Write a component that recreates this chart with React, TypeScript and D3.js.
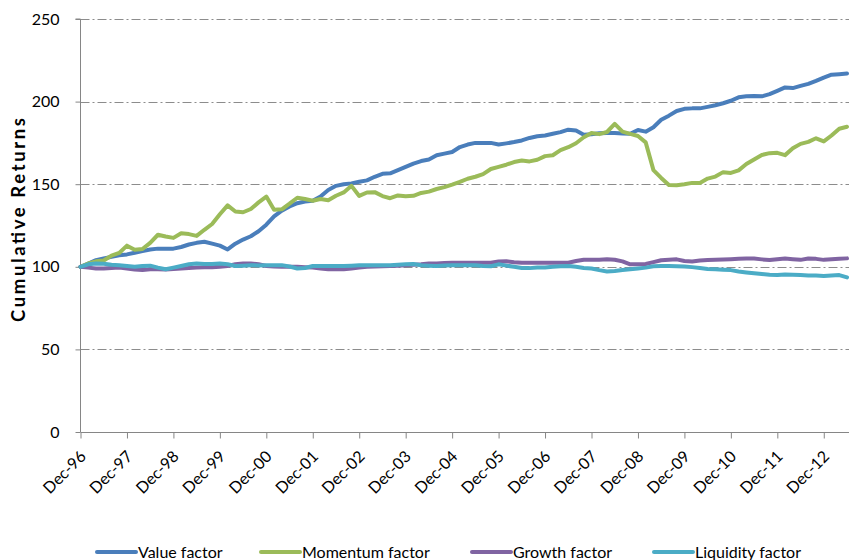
import React, { useEffect, useRef } from "react";
import * as d3 from "d3";

// Month offsets from Dec-96 (every 2 months) – category positions on the axis
const STEP_MONTHS = 2;

const yearTickLabels = [
  "Dec-96", "Dec-97", "Dec-98", "Dec-99", "Dec-00", "Dec-01", "Dec-02", "Dec-03", "Dec-04",
  "Dec-05", "Dec-06", "Dec-07", "Dec-08", "Dec-09", "Dec-10", "Dec-11", "Dec-12",
];

const yTickValues = [0, 50, 100, 150, 200, 250];

const valueFactor = [
  100, 102, 104, 105, 106, 107, 107.5, 108.5, 109.5, 110.5,
  111, 111, 111, 112, 113.5, 114.5, 115.2, 114, 112.8, 110.5,
  114, 116.5, 118.5, 121.5, 125.5, 130.5, 134, 136.5, 138.5, 139.5,
  140, 142.5, 146.5, 149, 150, 150.5, 151.5, 152.3, 154.5, 156.3,
  156.6, 158.5, 160.5, 162.5, 164, 165, 167.5, 168.5, 169.5, 172.5,
  174, 175, 175, 175, 174, 174.7, 175.5, 176.5, 178, 179,
  179.5, 180.5, 181.5, 183, 182.5, 180, 180.2, 180.8, 181, 181,
  180.7, 180.5, 182.8, 181.8, 184.5, 189, 191.5, 194.3, 195.6, 195.9,
  195.9, 196.8, 197.8, 199, 200.5, 202.6, 203.2, 203.4, 203.2, 204.5,
  206.5, 208.6, 208.2, 209.5, 210.7, 212.5, 214.5, 216.3, 216.6, 217,
];

const momentumFactor = [
  100, 102, 103.3, 103.8, 106.8, 108.4, 112.8, 110.3, 110.8, 114.5,
  119.4, 118.3, 117.5, 120.3, 119.8, 118.7, 122.4, 125.9, 131.8, 137.2,
  133.5, 133, 135, 139, 142.5, 134.5, 134.8, 138.2, 141.8, 141,
  140, 141, 140.3, 143, 145, 149, 142.9, 145, 145.2, 142.8,
  141.5, 143.2, 142.7, 143, 144.7, 145.5, 147.1, 148.2, 149.7, 151.4,
  153.3, 154.5, 156.1, 159.2, 160.5, 161.8, 163.4, 164.3, 163.8, 164.8,
  167, 167.5, 170.6, 172.4, 174.8, 178.4, 181, 180.3, 181.6, 186.5,
  181.8, 180.5, 179.2, 175.3, 158.5, 153.8, 149.5, 149.4, 150, 150.8,
  150.8, 153.4, 154.6, 157.3, 156.8, 158.4, 162.2, 165, 167.7, 168.8,
  169, 167.6, 171.7, 174.4, 175.6, 177.8, 175.9, 179.5, 183.6, 184.8,
];

const growthFactor = [
  100, 99.5, 99, 99, 99.3, 99.5, 99, 98.3, 98, 98.5,
  98.5, 98.3, 98.7, 99, 99.2, 99.5, 99.8, 99.8, 100, 100.5,
  101.5, 102, 102, 101.5, 100.5, 100.2, 100, 100, 100, 99.8,
  99.6, 99, 98.5, 98.5, 98.5, 99, 99.5, 100, 100.2, 100.4,
  100.5, 100.7, 100.9, 101.2, 101.5, 102, 102, 102.3, 102.5, 102.5,
  102.5, 102.5, 102.5, 102.5, 103.2, 103.3, 102.8, 102.5, 102.5, 102.5,
  102.5, 102.5, 102.5, 102.5, 103.5, 104.3, 104.2, 104.3, 104.5, 104.3,
  103.3, 101.5, 101.5, 101.7, 102.8, 104, 104.3, 104.5, 103.5, 103.2,
  103.8, 104.1, 104.2, 104.4, 104.6, 104.8, 105, 105, 104.5, 104.1,
  104.6, 105, 104.6, 104.2, 105, 104.8, 104.2, 104.5, 104.8, 105.1,
];

const liquidityFactor = [
  100, 101.5, 102, 101.8, 101.2, 101, 100.5, 100, 100.5, 100.7,
  99.5, 98.5, 99.5, 100.5, 101.5, 102, 101.7, 101.7, 102, 101.5,
  100.5, 100.7, 101, 100.8, 101, 101, 101, 100.2, 99, 99.3,
  100.5, 100.5, 100.5, 100.5, 100.5, 100.7, 101, 101, 101, 101,
  101, 101.3, 101.5, 101.7, 101, 100.7, 100.5, 100.8, 101, 101,
  101, 101, 100.5, 100.3, 101.5, 100.7, 100, 99.3, 99.2, 99.6,
  99.6, 100, 100.3, 100.5, 100, 99.3, 99, 98, 97.2, 97.5,
  98, 98.5, 99, 99.5, 100.3, 100.5, 100.5, 100.3, 100.2, 99.8,
  99.3, 98.7, 98.5, 98.2, 98, 97.2, 96.6, 96.1, 95.6, 95.2,
  95, 95.4, 95.2, 95, 94.8, 94.7, 94.5, 94.8, 95, 93.6,
];

const seriesNames = ["Value factor", "Momentum factor", "Growth factor", "Liquidity factor"];
const seriesColors = ["#4A7EBB", "#9BBB59", "#8064A2", "#4BACC6"];
const seriesData = [valueFactor, momentumFactor, growthFactor, liquidityFactor];

const FONT = "Lato, 'Open Sans', 'DejaVu Sans', sans-serif";

export default function App() {
  const ref = useRef<SVGSVGElement | null>(null);

  useEffect(() => {
    document.body.style.margin = "0";
    const svg = d3.select(ref.current);
    svg.selectAll("*").remove();

    const W = 849;
    const H = 560;
    const left = 80.5;
    const top = 19;
    const bottom = 432;
    const lastIndex = (valueFactor.length - 1) * STEP_MONTHS;

    const x = d3.scaleLinear().domain([0, lastIndex]).range([left, 847]);
    const y = d3.scaleLinear().domain([0, 250]).range([bottom, top]);

    svg.attr("width", W).attr("height", H);
    svg.append("rect").attr("width", W).attr("height", H).attr("fill", "#fff");

    // gridlines (dash-dot)
    svg
      .append("g")
      .selectAll("line")
      .data(yTickValues.filter((v) => v > 0))
      .join("line")
      .attr("x1", left)
      .attr("x2", W)
      .attr("y1", (d) => Math.round(y(d)) + 0.5)
      .attr("y2", (d) => Math.round(y(d)) + 0.5)
      .attr("stroke", "#8c8c8c")
      .attr("stroke-width", 1)
      .attr("stroke-dasharray", "9,3,2,3");

    // Y axis
    const yAxis = d3
      .axisLeft(y)
      .tickValues(yTickValues)
      .tickSize(5)
      .tickPadding(16)
      .tickFormat((d) => String(d));
    const gy = svg.append("g").attr("transform", `translate(${left},0)`).call(yAxis);
    gy.select(".domain").attr("stroke", "#868686").attr("d", `M-5,${top}H0V${bottom}`);
    gy.selectAll(".tick line").attr("stroke", "#868686");
    gy.selectAll(".tick text")
      .attr("font-family", FONT)
      .attr("font-size", 16)
      .attr("fill", "#000");

    // X axis
    const tickMonths = yearTickLabels.map((_, i) => i * 12);
    const xAxis = d3
      .axisBottom(x)
      .tickValues(tickMonths)
      .tickSize(6)
      .tickFormat((d, i) => yearTickLabels[i]);
    const gx = svg.append("g").attr("transform", `translate(0,${bottom + 0.5})`).call(xAxis);
    gx.select(".domain").attr("stroke", "#868686").attr("d", `M${left},0H${W}`);
    gx.selectAll(".tick line").attr("stroke", "#868686");
    gx.selectAll(".tick text")
      .attr("font-family", FONT)
      .attr("font-size", 16)
      .attr("fill", "#000")
      .attr("text-anchor", "end")
      .attr("dy", null)
      .attr("y", 0)
      .attr("transform", "translate(6,25) rotate(-45)");

    // Y title
    svg
      .append("text")
      .attr("transform", `translate(25,220) rotate(-90)`)
      .attr("text-anchor", "middle")
      .attr("font-family", FONT)
      .attr("font-weight", "bold")
      .attr("font-size", 18.5)
      .attr("textLength", 204)
      .attr("lengthAdjust", "spacing")
      .attr("fill", "#000")
      .text("Cumulative Returns");

    // lines
    const line = d3
      .line<number>()
      .x((_, i) => x(i * STEP_MONTHS))
      .y((d) => y(d));

    svg
      .append("g")
      .selectAll("path")
      .data(seriesData)
      .join("path")
      .attr("d", (d) => line(d))
      .attr("fill", "none")
      .attr("stroke", (_, i) => seriesColors[i])
      .attr("stroke-width", 4)
      .attr("stroke-linejoin", "round")
      .attr("stroke-linecap", "round");

    // legend
    const legendX = [97, 261, 472, 654];
    const legendY = 552;
    const lg = svg
      .append("g")
      .selectAll("g")
      .data(seriesNames)
      .join("g")
      .attr("transform", (_, i) => `translate(${legendX[i]},${legendY})`);
    lg.append("line")
      .attr("x1", 0)
      .attr("x2", 39)
      .attr("y1", 0)
      .attr("y2", 0)
      .attr("stroke", (_, i) => seriesColors[i])
      .attr("stroke-width", 4)
      .attr("stroke-linecap", "round");
    lg.append("text")
      .attr("x", 41)
      .attr("y", 6)
      .attr("font-family", FONT)
      .attr("font-size", 16)
      .attr("fill", "#000")
      .text((d) => d);
  }, []);

  return (
    <svg
      ref={ref}
      width={849}
      height={560}
      style={{ display: "block", position: "absolute", left: 0, top: 0 }}
    />
  );
}
